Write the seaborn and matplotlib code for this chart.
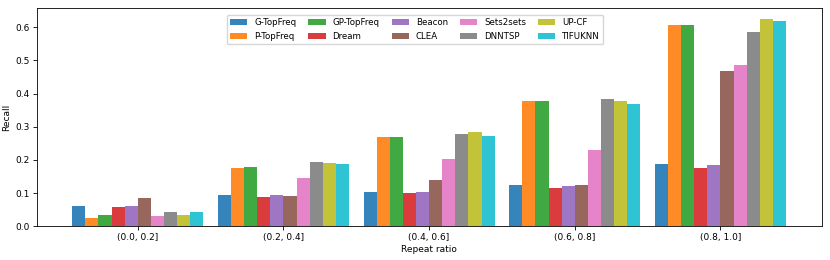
import pandas as pd
import matplotlib
matplotlib.use("Agg")
import matplotlib.pyplot as plt
import seaborn as sns

# Datos
ratios = ["(0.0, 0.2]", "(0.2, 0.4]", "(0.4, 0.6]", "(0.6, 0.8]", "(0.8, 1.0]"]
methods = ["G-TopFreq", "P-TopFreq", "GP-TopFreq", "Dream", "Beacon",
           "CLEA", "Sets2sets", "DNNTSP", "UP-CF", "TIFUKNN"]

g_topfreq = [0.060, 0.093, 0.103, 0.124, 0.188]
p_topfreq = [0.025, 0.176, 0.269, 0.377, 0.606]
gp_topfreq = [0.035, 0.178, 0.270, 0.377, 0.606]
dream = [0.058, 0.089, 0.100, 0.115, 0.175]
beacon = [0.061, 0.093, 0.104, 0.120, 0.184]
clea = [0.085, 0.091, 0.140, 0.124, 0.468]
sets2sets = [0.030, 0.145, 0.202, 0.231, 0.486]
dnntsp = [0.042, 0.195, 0.279, 0.385, 0.587]
up_cf = [0.033, 0.190, 0.284, 0.378, 0.625]
tifuknn = [0.042, 0.187, 0.273, 0.368, 0.618]

values = [g_topfreq, p_topfreq, gp_topfreq, dream, beacon,
          clea, sets2sets, dnntsp, up_cf, tifuknn]

rows = []
for m, vals in zip(methods, values):
    for r, v in zip(ratios, vals):
        rows.append({"ratio": r, "method": m, "recall": v})
df = pd.DataFrame(rows)

fig, ax = plt.subplots(figsize=(8.3, 2.6), dpi=100)
sns.barplot(data=df, x="ratio", y="recall", hue="method", order=ratios,
            hue_order=methods, palette="tab10", saturation=1, width=0.9,
            alpha=0.9, linewidth=0, errorbar=None, ax=ax)

ax.set_xlim(-0.695, 4.695)
ax.set_ylim(0, 0.657)
ax.set_xlabel("Repeat ratio", fontsize=6.5, labelpad=2)
ax.set_ylabel("Recall", fontsize=6.5, labelpad=3)
ax.tick_params(labelsize=6.5, length=2.8, pad=2, width=0.6)
for s in ax.spines.values():
    s.set_linewidth(0.6)
ax.legend(loc="upper center", bbox_to_anchor=(0.482, 0.985), ncol=5,
          fontsize=6.2, columnspacing=1.4, handlelength=2.0,
          borderaxespad=0.4, framealpha=0.8)

plt.subplots_adjust(left=0.044, right=0.99, top=0.968, bottom=0.13)
plt.savefig("out.png", dpi=100)
